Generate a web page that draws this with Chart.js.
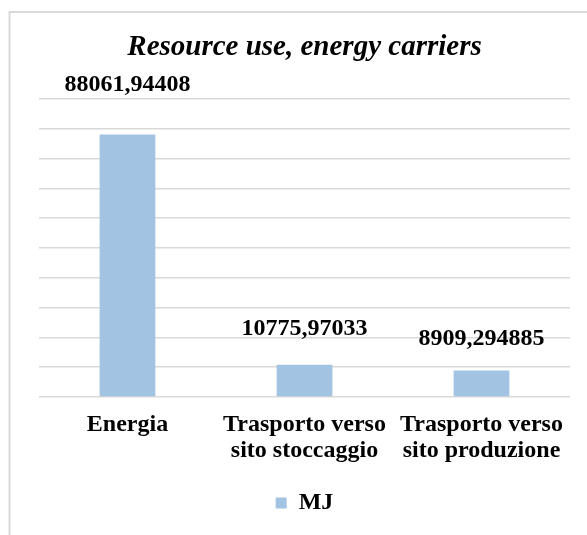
<!DOCTYPE html>
<html>
<head>
<meta charset="utf-8">
<title>Resource use, energy carriers</title>
<script src="https://cdn.jsdelivr.net/npm/chart.js@4/dist/chart.umd.min.js"></script>
<style>
  html, body { margin: 0; padding: 0; background: #ffffff; }
  canvas { display: block; }
</style>
</head>
<body>
<canvas id="chart" width="587" height="535"></canvas>
<script>
// Chart content
const chartTitle = 'Resource use, energy carriers';
const seriesName = 'MJ';
const categories = [
  'Energia',
  ['Trasporto verso', 'sito stoccaggio'],
  ['Trasporto verso', 'sito produzione']
];
const values = [88061.94408, 10775.97033, 8909.294885];
const axisMin = 0;
const axisMax = 100000;
const axisStep = 10000;

const SERIF = "'Liberation Serif', 'Times New Roman', serif";
const BAR_COLOR = '#a2c3e2';
const GRID_COLOR = '#d9d9d9';

// Value labels above each bar, written with a decimal comma
const valueLabels = {
  id: 'valueLabels',
  afterDatasetsDraw(chart, args, opts) {
    const ctx = chart.ctx;
    const meta = chart.getDatasetMeta(0);
    ctx.save();
    ctx.font = 'bold 24px ' + SERIF;
    ctx.fillStyle = '#000000';
    ctx.textAlign = 'center';
    ctx.textBaseline = 'alphabetic';
    meta.data.forEach((bar, i) => {
      const v = chart.data.datasets[0].data[i];
      const text = String(v).replace('.', ',');
      const lift = opts.lift[i] || 0;
      ctx.fillText(text, bar.x, bar.y - lift);
    });
    ctx.restore();
  }
};

// Light frame around the chart
const chartFrame = {
  id: 'chartFrame',
  beforeDraw(chart) {
    const ctx = chart.ctx;
    ctx.save();
    ctx.strokeStyle = GRID_COLOR;
    ctx.lineWidth = 2;
    ctx.beginPath();
    ctx.moveTo(9.5, chart.height);
    ctx.lineTo(9.5, 12);
    ctx.lineTo(chart.width, 12);
    ctx.stroke();
    ctx.restore();
  }
};

Chart.defaults.color = '#000000';
Chart.defaults.font.family = SERIF;

new Chart(document.getElementById('chart'), {
  type: 'bar',
  data: {
    labels: categories,
    datasets: [{
      label: seriesName,
      data: values,
      backgroundColor: BAR_COLOR,
      borderWidth: 0,
      barPercentage: 0.315,
      categoryPercentage: 1.0
    }]
  },
  options: {
    responsive: false,
    animation: false,
    devicePixelRatio: 1,
    layout: { padding: { top: 30, left: 39, right: 17, bottom: 10 } },
    plugins: {
      title: {
        display: true,
        text: chartTitle,
        color: '#000000',
        font: { family: SERIF, size: 29, weight: 'bold', style: 'italic', lineHeight: 1.2 },
        padding: { top: 0, bottom: 34 }
      },
      legend: {
        display: true,
        position: 'bottom',
        labels: {
          boxWidth: 11,
          boxHeight: 11,
          padding: 10,
          color: '#000000',
          font: { family: SERIF, size: 24, weight: 'bold' }
        }
      },
      tooltip: { enabled: false },
      valueLabels: { lift: [43, 30, 25] }
    },
    scales: {
      x: {
        grid: { display: false, drawTicks: false },
        border: { display: false },
        ticks: {
          padding: 15,
          color: '#000000',
          font: { family: SERIF, size: 24, weight: 'bold', lineHeight: 1.083 }
        },
        afterFit(scale) { scale.height = 84; }
      },
      y: {
        min: axisMin,
        max: axisMax,
        ticks: { display: false, stepSize: axisStep },
        grid: { color: GRID_COLOR, lineWidth: 1.5, drawTicks: false },
        border: { display: false }
      }
    }
  },
  plugins: [chartFrame, valueLabels]
});
</script>
</body>
</html>
